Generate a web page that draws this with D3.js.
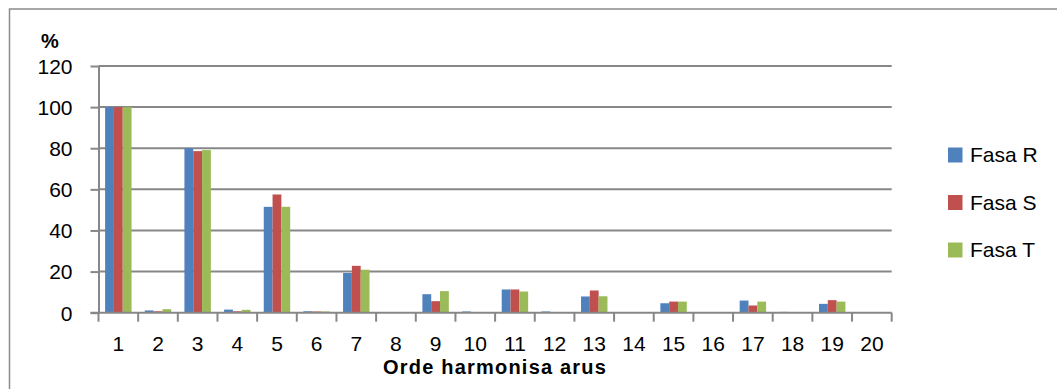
<!DOCTYPE html>
<html>
<head>
<meta charset="utf-8">
<script src="https://cdn.jsdelivr.net/npm/d3@7"></script>
<style>
html,body{margin:0;padding:0;background:#fff;}
svg{display:block;font-family:"Liberation Sans",Arial,sans-serif;}
</style>
</head>
<body>
<svg id="chart" width="1057" height="389"></svg>
<script>
const categories = ["1","2","3","4","5","6","7","8","9","10","11","12","13","14","15","16","17","18","19","20"];
const seriesNames = ["Fasa R","Fasa S","Fasa T"];
const fasaR = [100, 1.1, 80, 1.5, 51.5, 0.7, 19.3, 0.1, 9.0, 0.6, 11.3, 0.6, 7.9, 0.2, 4.6, 0.1, 5.9, 0.4, 4.3, 0.1];
const fasaS = [100, 0.7, 78.6, 0.7, 57.5, 0.6, 22.8, 0.2, 5.6, 0.3, 11.3, 0.3, 10.8, 0.2, 5.4, 0.1, 3.5, 0.1, 6.1, 0.1];
const fasaT = [100, 1.7, 79.1, 1.4, 51.5, 0.6, 20.9, 0.1, 10.5, 0.1, 10.3, 0.0, 8.0, 0.0, 5.4, 0.0, 5.4, 0.0, 5.4, 0.0];
const yTicks = [0, 20, 40, 60, 80, 100, 120];
const colors = ["#4F81BD", "#C0504D", "#9BBB59"];
const yLabel = "%";
const xTitle = "Orde harmonisa arus";

(function () {
const seriesData = [fasaR, fasaS, fasaT];
const svg = d3.select("#chart");
const gridColor = "#878787";
const fs = 21;

// outer frame (only top/left visible)
svg.append("rect").attr("x", 9.5).attr("y", 9).attr("width", 1080).attr("height", 400)
  .attr("fill", "none").attr("stroke", "#8c8c8c").attr("stroke-width", 1.5);

const pLeft = 98.5, pRight = 891.7, pTop = 66, pBottom = 312.7;
const x = d3.scaleBand().domain(categories).range([pLeft, pRight]).paddingInner(0).paddingOuter(0);
const xs = d3.scaleBand().domain(seriesNames).range([0, x.bandwidth()]).paddingInner(0).paddingOuter(0.75);
const y = d3.scaleLinear().domain([0, 120]).range([pBottom, pTop]);

// gridlines
svg.append("g").selectAll("line").data(yTicks.filter(t => t > 0)).join("line")
  .attr("x1", pLeft).attr("x2", pRight)
  .attr("y1", d => y(d)).attr("y2", d => y(d))
  .attr("stroke", gridColor).attr("stroke-width", 2);

// y axis
const yAxis = svg.append("g").attr("transform", `translate(${pLeft},0)`)
  .call(d3.axisLeft(y).tickValues(yTicks).tickSize(8).tickSizeOuter(0).tickPadding(18));
yAxis.select(".domain").attr("stroke", gridColor).attr("stroke-width", 2);
yAxis.selectAll(".tick line").attr("stroke", gridColor).attr("stroke-width", 2);
yAxis.selectAll(".tick text").attr("font-size", fs).attr("fill", "#000")
  .attr("font-family", "'Liberation Sans', Arial, sans-serif").attr("dy", "0.35em");

// bars
const groups = svg.append("g").selectAll("g").data(seriesNames).join("g")
  .attr("fill", (d, i) => colors[i]);
groups.selectAll("rect").data((s, si) => categories.map((c, ci) => ({c, s, v: seriesData[si][ci]})))
  .join("rect")
  .attr("x", d => x(d.c) + xs(d.s))
  .attr("width", xs.bandwidth())
  .attr("y", d => y(d.v))
  .attr("height", d => y(0) - y(d.v));

// x axis line and ticks at category boundaries
const boundaries = categories.map(c => x(c)).concat([pRight]);
svg.append("line").attr("x1", pLeft - 8).attr("x2", pRight).attr("y1", y(0)).attr("y2", y(0))
  .attr("stroke", gridColor).attr("stroke-width", 2);
svg.append("g").selectAll("line").data(boundaries).join("line")
  .attr("x1", d => d).attr("x2", d => d).attr("y1", y(0)).attr("y2", y(0) + 9)
  .attr("stroke", gridColor).attr("stroke-width", 2);

const xAxis = svg.append("g").attr("transform", `translate(0,${pBottom})`)
  .call(d3.axisBottom(x).tickSize(0).tickPadding(23));
xAxis.select(".domain").remove();
xAxis.selectAll(".tick text").attr("font-size", fs).attr("fill", "#000")
  .attr("font-family", "'Liberation Sans', Arial, sans-serif");

// axis titles
svg.append("text").attr("x", 50).attr("y", 48).attr("text-anchor", "middle")
  .attr("font-size", 20).attr("font-weight", "bold").text(yLabel);
svg.append("text").attr("x", (pLeft + pRight) / 2).attr("y", 374).attr("text-anchor", "middle")
  .attr("font-size", 20).attr("font-weight", "bold").attr("letter-spacing", "1.2px").text(xTitle);

// legend
const legend = svg.append("g").selectAll("g").data(seriesNames).join("g")
  .attr("transform", (d, i) => `translate(948,${155 + i * 47.5})`);
legend.append("rect").attr("x", 0).attr("y", -7.5).attr("width", 14.5).attr("height", 15)
  .attr("fill", (d, i) => colors[i]);
legend.append("text").attr("x", 22).attr("y", 0).attr("dy", "0.35em")
  .attr("font-size", fs).attr("fill", "#000").text(d => d);
})();
</script>
</body>
</html>
